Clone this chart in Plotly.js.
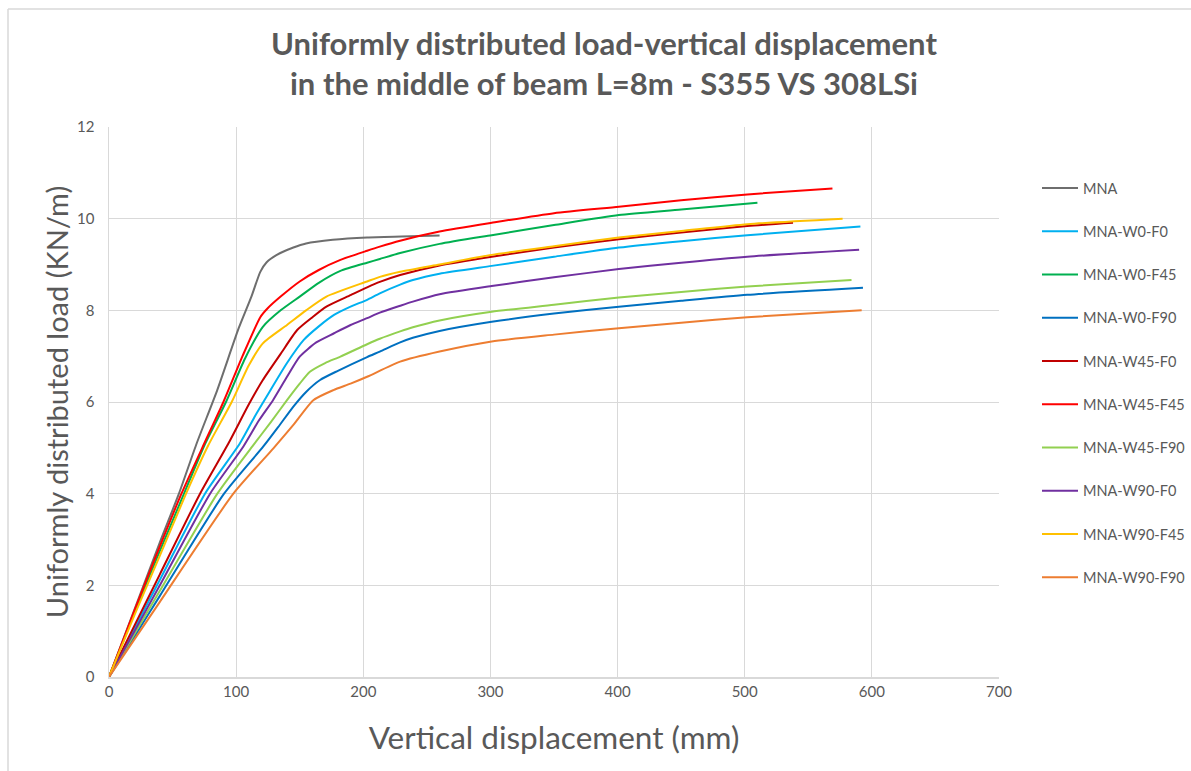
<!DOCTYPE html>
<html>
<head>
<meta charset="utf-8">
<script src="https://cdn.plot.ly/plotly-3.0.1.min.js"></script>
<style>
html,body{margin:0;padding:0;background:#fff;}
#chart{width:1191px;height:771px;}
</style>
</head>
<body>
<div id="chart"></div>
<script>
// Series names and colours
const seriesNames = ["MNA","MNA-W0-F0","MNA-W0-F45","MNA-W0-F90","MNA-W45-F0","MNA-W45-F45","MNA-W45-F90","MNA-W90-F0","MNA-W90-F45","MNA-W90-F90"];
const seriesColors = ["#6e6e6e","#00b0f0","#00b050","#0070c0","#c00000","#ff0000","#92d050","#7030a0","#ffc000","#ed7d31"];

// Data (vertical displacement mm, load KN/m)
const mna_x = [0, 20, 40, 55, 69, 85, 102, 112, 119, 124, 132, 145, 155, 176, 203, 230, 260];
const mna_y = [0, 1.47, 2.94, 4.0, 5.1, 6.25, 7.61, 8.3, 8.84, 9.05, 9.21, 9.37, 9.46, 9.54, 9.59, 9.61, 9.63];

const w0f0_x = [0, 20, 40, 75.5, 103, 115, 124, 140, 153, 165, 177, 190, 203, 213, 229, 239, 260, 301, 350, 401, 450, 502, 591];
const w0f0_y = [0, 1.06, 2.12, 4.0, 5.1, 5.7, 6.12, 6.85, 7.35, 7.65, 7.9, 8.08, 8.23, 8.37, 8.56, 8.66, 8.80, 8.97, 9.17, 9.37, 9.51, 9.64, 9.83];

const w0f45_x = [0, 20, 40, 59, 75, 92, 107, 121, 135, 150, 165, 182, 203, 213, 229, 260, 301, 350, 401, 450, 510];
const w0f45_y = [0, 1.4, 2.75, 4.0, 5.05, 6.0, 6.95, 7.64, 8.0, 8.30, 8.6, 8.86, 9.04, 9.12, 9.25, 9.45, 9.64, 9.86, 10.08, 10.2, 10.35];

const w0f90_x = [0, 20, 40, 90.5, 121.4, 133, 145, 155, 166, 180, 203, 213, 229, 239, 260, 301, 350, 401, 450, 502, 593];
const w0f90_y = [0, 0.88, 1.77, 4.0, 5.03, 5.45, 5.9, 6.22, 6.48, 6.68, 6.98, 7.10, 7.30, 7.40, 7.55, 7.75, 7.93, 8.08, 8.21, 8.34, 8.49];

const w45f0_x = [0, 20, 40, 71.6, 94, 110, 121, 135, 148, 160, 171, 190, 203, 213, 229, 260, 301, 350, 401, 450, 502, 538];
const w45f0_y = [0, 1.12, 2.24, 4.0, 5.1, 5.95, 6.48, 7.05, 7.57, 7.85, 8.08, 8.33, 8.50, 8.62, 8.77, 8.98, 9.17, 9.37, 9.55, 9.7, 9.84, 9.91];

const w45f45_x = [0, 20, 40, 57, 75, 90, 105, 119, 125, 135, 150, 165, 182, 203, 213, 229, 260, 301, 350, 401, 450, 502, 569];
const w45f45_y = [0, 1.45, 2.85, 4.0, 5.1, 6.0, 7.0, 7.85, 8.05, 8.3, 8.63, 8.88, 9.10, 9.30, 9.39, 9.52, 9.72, 9.91, 10.12, 10.26, 10.40, 10.53, 10.66];

const w45f90_x = [0, 20, 40, 85.2, 113.5, 127, 140, 150, 158, 170, 182, 203, 213, 229, 239, 260, 301, 350, 401, 450, 502, 584];
const w45f90_y = [0, 0.94, 1.88, 4.0, 5.06, 5.55, 6.04, 6.4, 6.66, 6.85, 6.99, 7.26, 7.38, 7.54, 7.63, 7.78, 7.97, 8.12, 8.28, 8.40, 8.52, 8.66];

const w90f0_x = [0, 20, 40, 79.5, 105.7, 118, 129, 140, 150, 163, 177, 190, 203, 213, 229, 239, 260, 301, 350, 401, 450, 502, 590];
const w90f0_y = [0, 1.0, 2.0, 4.0, 5.03, 5.6, 6.04, 6.55, 6.99, 7.3, 7.5, 7.68, 7.83, 7.95, 8.10, 8.19, 8.35, 8.53, 8.72, 8.90, 9.04, 9.17, 9.32];

const w90f45_x = [0, 20, 40, 60.6, 78, 96.5, 110, 121, 140, 155, 171, 203, 213, 229, 260, 301, 350, 401, 450, 502, 577];
const w90f45_y = [0, 1.35, 2.65, 4.0, 5.05, 6.0, 6.8, 7.28, 7.68, 8.0, 8.30, 8.63, 8.73, 8.84, 9.0, 9.21, 9.40, 9.59, 9.73, 9.88, 10.0];

const w90f90_x = [0, 20, 40, 97.8, 129.3, 145, 160.7, 176.5, 190, 203, 229, 260, 301, 350, 401, 450, 502, 592];
const w90f90_y = [0, 0.82, 1.64, 4.0, 4.99, 5.5, 6.04, 6.26, 6.4, 6.55, 6.88, 7.1, 7.32, 7.47, 7.61, 7.73, 7.85, 8.00];

const xs = [mna_x, w0f0_x, w0f45_x, w0f90_x, w45f0_x, w45f45_x, w45f90_x, w90f0_x, w90f45_x, w90f90_x];
const ys = [mna_y, w0f0_y, w0f45_y, w0f90_y, w45f0_y, w45f45_y, w45f90_y, w90f0_y, w90f45_y, w90f90_y];

const xTicks = [0, 100, 200, 300, 400, 500, 600, 700];
const yTicks = [0, 2, 4, 6, 8, 10, 12];

const FONT = "Lato, 'Open Sans', sans-serif";
const TXT = "#595959";

const traces = seriesNames.map((n, i) => ({
  type: "scatter", mode: "lines", name: n, legendgroup: "g" + i,
  x: xs[i], y: ys[i],
  line: {color: seriesColors[i], width: 2, shape: "spline", smoothing: 0.6}
}));

const W = 1191, H = 771, L = 109, R = 999, T = 127, B = 677;
const pw = R - L, ph = B - T;
const PAD = "\u00a0".repeat(10);

const layout = {
  width: W, height: H,
  margin: {l: L, r: W - R, t: T, b: H - B, pad: 0, autoexpand: false},
  paper_bgcolor: "#fff", plot_bgcolor: "#fff",
  font: {family: FONT, color: TXT},
  title: {
    text: "<b>Uniformly distributed load-vertical displacement<br>in the middle of beam L=8m - S355 VS 308LSi</b>",
    font: {size: 31, color: TXT, family: FONT},
    x: 604 / W, xanchor: "center", xref: "container",
    y: 1 - 55 / H, yanchor: "top", yref: "container"
  },
  xaxis: {
    range: [0, 700], tickvals: xTicks, ticktext: xTicks.map(String),
    showgrid: true, gridcolor: "#d9d9d9", gridwidth: 1,
    zeroline: false, showline: true, linecolor: "#d9d9d9", linewidth: 1.5, mirror: false,
    ticks: "", tickfont: {size: 15, color: TXT, family: FONT},
    automargin: false,
    title: {text: "Vertical displacement (mm)", font: {size: 31.5, color: TXT, family: FONT}, standoff: 28}
  },
  yaxis: {
    range: [0, 12], tickvals: yTicks, ticktext: yTicks.map(String),
    showgrid: true, gridcolor: "#d9d9d9", gridwidth: 1,
    zeroline: false, showline: true, linecolor: "#d9d9d9", linewidth: 1.5,
    ticks: "", ticklabelstandoff: 10, tickfont: {size: 15, color: TXT, family: FONT},
    automargin: false,
    title: {text: PAD + "Uniformly distributed load (KN/m)", font: {size: 29, color: TXT, family: FONT}, standoff: 0}
  },
  legend: {
    xref: "container", yref: "container",
    x: 1037 / W, xanchor: "left",
    y: 1 - 172 / H, yanchor: "top",
    font: {size: 14.5, color: TXT, family: FONT},
    tracegroupgap: 21.4, itemwidth: 36, maxheight: 700,
    bgcolor: "rgba(0,0,0,0)", borderwidth: 0, traceorder: "grouped"
  },
  shapes: [
    {type: "line", xref: "paper", yref: "paper", x0: (8 - L) / pw, x1: (8 - L) / pw, y0: (B - 9) / ph, y1: (B - 775) / ph, line: {color: "#d9d9d9", width: 1.5}},
    {type: "line", xref: "paper", yref: "paper", x0: (8 - L) / pw, x1: (1195 - L) / pw, y0: (B - 9) / ph, y1: (B - 9) / ph, line: {color: "#d9d9d9", width: 1.5}}
  ],
  showlegend: true
};

Plotly.newPlot("chart", traces, layout, {displayModeBar: false, staticPlot: true});
</script>
</body>
</html>
